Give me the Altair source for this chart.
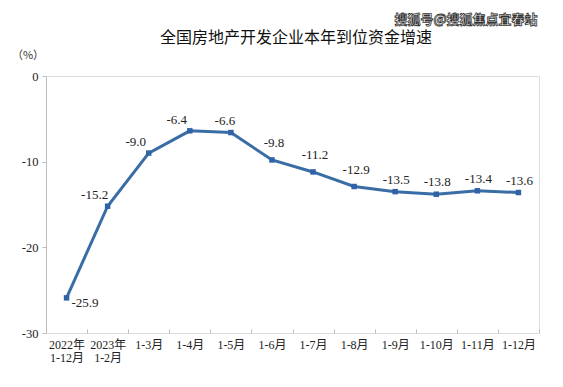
import altair as alt
import pandas as pd

categories = ["2022年\n1-12月", "2023年\n1-2月", "1-3月", "1-4月", "1-5月", "1-6月",
              "1-7月", "1-8月", "1-9月", "1-10月", "1-11月", "1-12月"]
values = [-25.9, -15.2, -9.0, -6.4, -6.6, -9.8, -11.2, -12.9, -13.5, -13.8, -13.4, -13.6]
y_ticks = [0, -10, -20, -30]
title_text = "全国房地产开发企业本年到位资金增速"
unit_text = "（%）"
watermark_text = "搜狐号@搜狐焦点宜春站"

df = pd.DataFrame({"category": categories, "value": values,
                   "label": [f"{v:.1f}" for v in values]})

FONT = "Liberation Serif, 'Noto Sans CJK SC', serif"
LINE = "#3a6ca5"

x_enc = alt.X("category:N", sort=categories, title=None,
              scale=alt.Scale(paddingInner=0, paddingOuter=0),
              axis=alt.Axis(labelAngle=0, tickBand="extent", domain=False, offset=-4,
                            tickSize=4, tickColor="#bfbfbf", labelPadding=6,
                            labelFont=FONT, labelFontSize=12, labelColor="#222222",
                            labelBaseline="top", labelLineHeight=13,
                            labelExpr="split(datum.label, '\\n')"))
y_enc = alt.Y("value:Q", title=None,
              scale=alt.Scale(domain=[-30, 0], nice=False),
              axis=alt.Axis(values=y_ticks, grid=False, tickSize=4, tickColor="#bfbfbf",
                            domainColor="#bfbfbf", labelPadding=4, labelFont=FONT,
                            labelFontSize=12.5, labelColor="#222222",
                            labelExpr="toString(datum.value)"))

base = alt.Chart(df)
line = base.mark_line(color=LINE, strokeWidth=3).encode(x=x_enc, y=y_enc)
pts = base.mark_point(shape="square", filled=True, size=30, color="#2f63a6", opacity=1).encode(x=x_enc, y=y_enc)


def label_layer(cats, dx, dy, align="center"):
    return base.transform_filter(alt.FieldOneOfPredicate(field="category", oneOf=cats)).mark_text(
        font=FONT, fontSize=13, color="#222222", dx=dx, dy=dy, align=align, baseline="middle"
    ).encode(x=x_enc, y=y_enc, text="label:N")


labels_first = label_layer(categories[0:1], 5, 5, "left")
labels_a = label_layer(categories[1:4], -13, -11)
labels_b = label_layer(categories[4:5], -6, -12)
labels_c = label_layer(categories[5:8], 2, -17)
labels_d = label_layer(categories[8:12], 1, -12)

title = alt.Chart(pd.DataFrame({"t": [title_text]})).mark_text(
    font="'Noto Sans CJK SC'", fontSize=16, color="#111111", baseline="middle", align="center"
).encode(text="t:N", x=alt.value(250), y=alt.value(-38))
unit = alt.Chart(pd.DataFrame({"t": [unit_text]})).mark_text(
    font="'Noto Sans CJK SC'", fontSize=11, color="#333333", baseline="middle", align="center"
).encode(text="t:N", x=alt.value(-18), y=alt.value(-20))
wm = alt.Chart(pd.DataFrame({"t": [watermark_text]})).mark_text(
    font="'Noto Sans CJK SC'", fontSize=13, fontWeight="bold", color="#ffffff",
    stroke="#333333", strokeWidth=0.8, baseline="middle", align="center"
).encode(text="t:N", x=alt.value(420), y=alt.value(-56))

chart = alt.layer(line, pts, labels_first, labels_a, labels_b, labels_c, labels_d,
                  title, unit, wm).properties(
    width=493, height=257,
    autosize=alt.AutoSizeParams(type="none"),
    padding={"left": 38, "top": 68, "right": 16, "bottom": 46},
).configure_view(stroke="#bfbfbf", strokeWidth=1).configure(background="#ffffff")

chart.save("out.html", embed_options={"renderer": "svg", "actions": False})
